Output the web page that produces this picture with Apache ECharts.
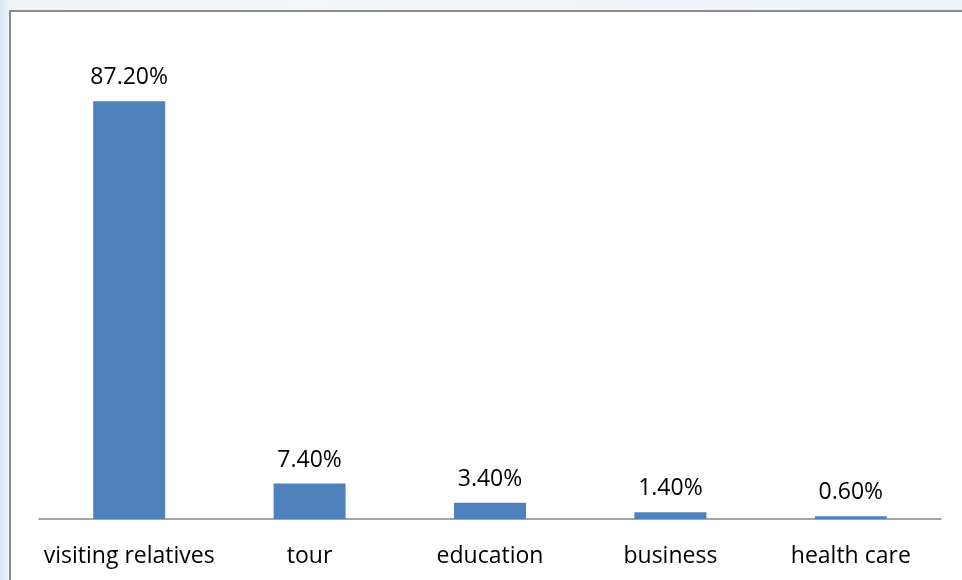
<!DOCTYPE html>
<html><head><meta charset="utf-8">
<script src="https://cdn.jsdelivr.net/npm/echarts@6/dist/echarts.min.js"></script>
<style>
html,body{margin:0;padding:0;}
body{width:962px;height:580px;background:linear-gradient(90deg,#d6e6f4 0px,#eef4fa 9px,#f3f7fb 300px,#eaf3fb 962px);}
#c{width:962px;height:580px;}
</style></head>
<body><div id="c"></div>
<script>
const categories = ['visiting relatives','tour','education','business','health care'];
const values = [87.2, 7.4, 3.4, 1.4, 0.6];
const labels = ['87.20%','7.40%','3.40%','1.40%','0.60%'];

const chart = echarts.init(document.getElementById('c'), null, {renderer:'canvas'});
chart.setOption({
  animation:false,
  backgroundColor:'transparent',
  graphic:[{type:'rect', z:-10, shape:{x:10, y:11, width:970, height:600},
    style:{fill:'#ffffff', stroke:'#8c8c8c', lineWidth:2}}],
  grid:{left:39, right:21, top:40, bottom:61},
  xAxis:{type:'category', data:categories,
    axisLine:{lineStyle:{color:'#868686', width:1.5}},
    axisTick:{show:false},
    axisLabel:{color:'#000', fontFamily:'Open Sans', fontSize:23, margin:26, interval:0}},
  yAxis:{type:'value', min:0, max:100, show:false, splitLine:{show:false}},
  series:[{type:'bar', data:values, barWidth:72,
    itemStyle:{color:'#4f81bd'},
    label:{show:true, position:'top', distance:12, color:'#000', fontFamily:'Open Sans', fontSize:23,
      formatter:p=>labels[p.dataIndex]}}]
});
</script></body></html>
